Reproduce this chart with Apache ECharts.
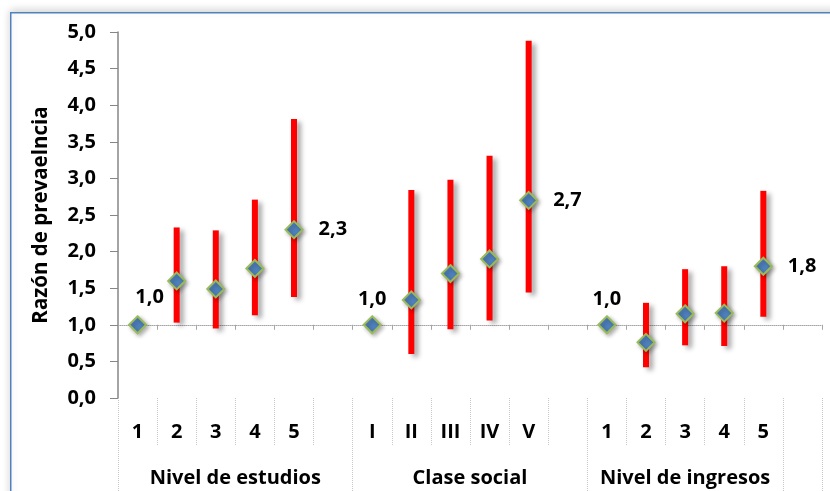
<!DOCTYPE html>
<html>
<head>
<meta charset="utf-8">
<script src="https://cdn.jsdelivr.net/npm/echarts@6/dist/echarts.min.js"></script>
<style>
  html, body { margin: 0; padding: 0; background: #fff; }
  #chart { width: 830px; height: 491px; }
</style>
</head>
<body>
<div id="chart"></div>
<script>
// Category slots (one empty slot closes each group)
const categories = ['1', '2', '3', '4', '5', '', 'I', 'II', 'III', 'IV', 'V', '', '1', '2', '3', '4', '5', ''];
// Group names and how many slots each one spans
const groups = ['Nivel de estudios', 'Clase social', 'Nivel de ingresos', ''];
const groupSizes = [6, 6, 5, 1];

// Prevalence ratio and its confidence interval
const ratio = [1.0, 1.60, 1.49, 1.77, 2.3, null, 1.0, 1.34, 1.70, 1.90, 2.7, null, 1.0, 0.76, 1.15, 1.16, 1.8, null];
const lower = [null, 1.03, 0.95, 1.13, 1.38, null, null, 0.60, 0.94, 1.06, 1.44, null, null, 0.42, 0.72, 0.71, 1.11, null];
const upper = [null, 2.33, 2.29, 2.71, 3.81, null, null, 2.84, 2.98, 3.31, 4.88, null, null, 1.30, 1.76, 1.80, 2.83, null];

// Points that carry a value label
const refLabelIdx = [0, 6, 12];      // reference categories
const endLabelIdx = [4, 10, 16];     // last category of each group

// Value axis
const yMin = 0, yMax = 5, yStep = 0.5;
const refLine = 1.0;

const FONT = '"Open Sans", "Noto Sans", sans-serif';
const FS = 20;
const fmt = v => v.toFixed(1).replace('.', ',');

const gridTop = 32, gridBottom = 93, gridLeft = 118, gridRight = 8;
const plotH = 491 - gridTop - gridBottom;

// Half-slot axis used for the group row: its points fall on slot boundaries and centres
const halfCats = [];
for (let i = 0; i <= categories.length * 2; i++) halfCats.push('');
const groupTickAt = new Set();
const groupLabelAt = {};
let start = 0;
groupSizes.forEach((n, g) => {
  groupTickAt.add(start * 2);
  if (groups[g]) groupLabelAt[start * 2 + n] = groups[g];
  start += n;
});
groupTickAt.add(start * 2);
Object.keys(groupLabelAt).forEach(k => { halfCats[k] = groupLabelAt[k]; });

const ciData = [];
ratio.forEach((v, i) => {
  if (lower[i] != null && upper[i] != null) ciData.push([i, lower[i], upper[i]]);
});

const pointData = ratio.map((v, i) => {
  if (v == null) return null;
  const item = { value: [i, v] };
  if (refLabelIdx.includes(i)) {
    // the first label is nudged right so it clears the value axis
    item.label = { show: true, position: 'top', offset: [i === 0 ? 12 : 0, i === 0 ? -3 : -1] };
  } else if (endLabelIdx.includes(i)) {
    item.label = { show: true, position: 'right', distance: 15 };
  }
  return item;
}).filter(d => d);

const chart = echarts.init(document.getElementById('chart'), null, { renderer: 'canvas' });

chart.setOption({
  animation: false,
  backgroundColor: '#ffffff',
  textStyle: { fontFamily: FONT },
  graphic: [{
    type: 'rect',
    left: 10, top: 12,
    shape: { width: 840, height: 500 },
    style: {
      fill: '#ffffff', stroke: '#4f81bd', lineWidth: 1.5,
      shadowColor: 'rgba(0,0,0,0.18)', shadowBlur: 8, shadowOffsetY: -2
    },
    z: -10, silent: true
  }],
  grid: {
    left: gridLeft, right: gridRight, top: gridTop, bottom: gridBottom,
    containLabel: false, outerBoundsMode: 'none'
  },
  xAxis: [
    {
      type: 'category',
      data: categories,
      position: 'bottom',
      boundaryGap: true,
      axisLine: { show: false },
      axisTick: { show: true, interval: 0, length: 47, lineStyle: { color: '#c8c8c8', type: 'dotted', width: 1 } },
      axisLabel: { interval: 0, margin: 24, color: '#000', fontSize: FS, fontWeight: 'bold', fontFamily: FONT },
      splitLine: { show: false }
    },
    {
      // horizontal reference line at ratio = 1 with its boundary ticks
      type: 'category',
      data: categories,
      position: 'bottom',
      offset: -plotH * (refLine - yMin) / (yMax - yMin),
      boundaryGap: true,
      axisLine: { show: true, lineStyle: { color: '#a6a6a6', type: 'dotted', width: 1 } },
      axisTick: { show: true, interval: 0, length: 5, lineStyle: { color: '#a6a6a6', width: 1 } },
      axisLabel: { show: false },
      splitLine: { show: false }
    },
    {
      type: 'category',
      data: halfCats,
      position: 'bottom',
      boundaryGap: false,
      axisLine: { show: false },
      axisTick: {
        show: true,
        interval: idx => groupTickAt.has(idx),
        length: 93,
        lineStyle: { color: '#c8c8c8', type: 'dotted', width: 1 }
      },
      axisLabel: {
        interval: idx => groupLabelAt[idx] !== undefined,
        margin: 70, color: '#000', fontSize: FS, fontWeight: 'bold', fontFamily: FONT,
        hideOverlap: false
      },
      splitLine: { show: false }
    }
  ],
  yAxis: {
    type: 'value',
    min: yMin, max: yMax, interval: yStep,
    name: 'Razón de prevaelncia',
    nameLocation: 'middle',
    nameGap: 66,
    nameTextStyle: { color: '#000', fontSize: 20.5, fontWeight: 'bold', fontFamily: FONT },
    axisLine: { show: true, lineStyle: { color: '#868686', width: 1.5 } },
    axisTick: { show: true, length: 8, lineStyle: { color: '#868686', width: 1 } },
    axisLabel: { margin: 22, color: '#000', fontSize: FS, fontWeight: 'bold', fontFamily: FONT, formatter: fmt },
    splitLine: { show: false }
  },
  series: [
    {
      type: 'custom',
      xAxisIndex: 0,
      data: ciData,
      z: 2,
      renderItem: (params, api) => {
        const x = api.value(0);
        const top = api.coord([x, api.value(2)]);
        const bot = api.coord([x, api.value(1)]);
        return {
          type: 'rect',
          shape: { x: top[0] - 3, y: top[1], width: 6, height: bot[1] - top[1] },
          style: {
            fill: '#ff0000',
            shadowColor: 'rgba(0,0,0,0.35)', shadowBlur: 5, shadowOffsetX: 4, shadowOffsetY: 3
          }
        };
      }
    },
    {
      type: 'scatter',
      xAxisIndex: 0,
      data: pointData,
      symbol: 'diamond',
      symbolSize: [17, 17],
      z: 3,
      itemStyle: {
        color: '#4f81bd', borderColor: '#9bbb59', borderWidth: 2, opacity: 1,
        shadowColor: 'rgba(0,0,0,0.3)', shadowBlur: 4, shadowOffsetX: 2, shadowOffsetY: 2
      },
      label: {
        show: false,
        color: '#000', fontSize: FS, fontWeight: 'bold', fontFamily: FONT,
        formatter: p => fmt(p.value[1])
      },
      emphasis: { disabled: true }
    }
  ]
});
</script>
</body>
</html>
